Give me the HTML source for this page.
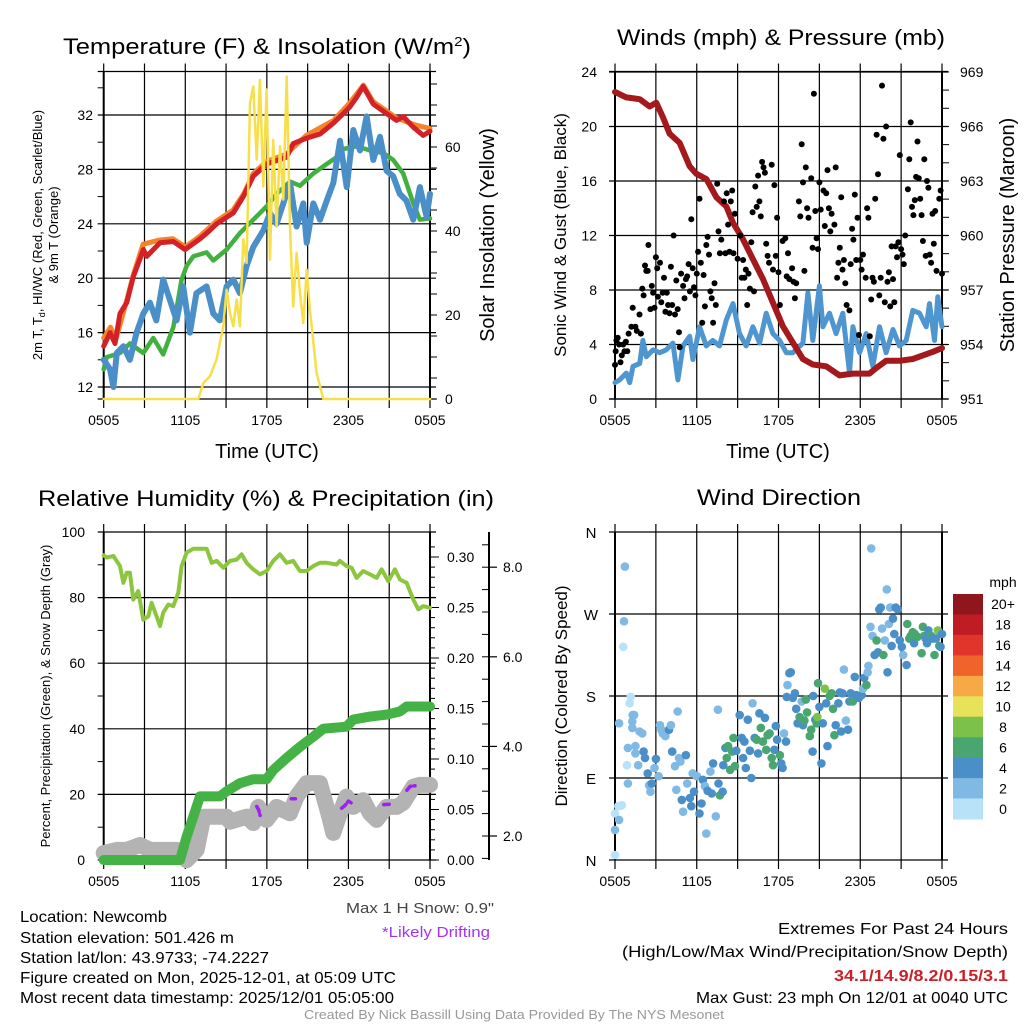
<!DOCTYPE html>
<html><head><meta charset="utf-8"><style>
html,body{margin:0;padding:0;background:#fff;}
svg{display:block;font-family:"Liberation Sans",Arial,sans-serif;}
</style></head><body>
<svg id="fig" width="1024" height="1024" viewBox="0 0 1024 1024" xmlns="http://www.w3.org/2000/svg">
<rect width="1024" height="1024" fill="#fff"/>
<text x="267" y="54" font-size="22" text-anchor="middle" textLength="408" lengthAdjust="spacingAndGlyphs">Temperature (F) &amp; Insolation (W/m<tspan dy="-8" font-size="13">2</tspan><tspan dy="8">)</tspan></text>
<text x="781" y="45" font-size="22" text-anchor="middle" textLength="328" lengthAdjust="spacingAndGlyphs">Winds (mph) &amp; Pressure (mb)</text>
<text x="266" y="506" font-size="22" text-anchor="middle" textLength="456" lengthAdjust="spacingAndGlyphs">Relative Humidity (%) &amp; Precipitation (in)</text>
<text x="779" y="505" font-size="22" text-anchor="middle" textLength="164" lengthAdjust="spacingAndGlyphs">Wind Direction</text>

<text transform="translate(42,235) rotate(-90)" font-size="13" text-anchor="middle">2m T, T<tspan font-size="9" dy="3">d</tspan><tspan dy="-3">, HI/WC (Red, Green, Scarlet/Blue)</tspan></text>
<text transform="translate(58,235) rotate(-90)" font-size="13" text-anchor="middle">&amp; 9m T (Orange)</text>
<text transform="translate(494,235) rotate(-90)" font-size="20" text-anchor="middle">Solar Insolation (Yellow)</text>
<text x="267" y="458" font-size="20" text-anchor="middle">Time (UTC)</text>
<text transform="translate(566,235) rotate(-90)" font-size="17" text-anchor="middle">Sonic Wind &amp; Gust (Blue, Black)</text>
<text transform="translate(1014,235) rotate(-90)" font-size="20" text-anchor="middle">Station Pressure (Maroon)</text>
<text x="778" y="458" font-size="20" text-anchor="middle">Time (UTC)</text>
<text transform="translate(50,696) rotate(-90)" font-size="13" text-anchor="middle">Percent, Precipitation (Green), &amp; Snow Depth (Gray)</text>
<text transform="translate(567,696) rotate(-90)" font-size="17" text-anchor="middle">Direction (Colored By Speed)</text>

<g id="layer"></g>

<text x="494" y="913" font-size="15" fill="#444" text-anchor="end" textLength="148" lengthAdjust="spacingAndGlyphs">Max 1 H Snow: 0.9"</text>
<text x="490" y="937" font-size="15" fill="#a335f0" text-anchor="end" textLength="108" lengthAdjust="spacingAndGlyphs">*Likely Drifting</text>
<g font-size="16">
<text x="20" y="922" textLength="147" lengthAdjust="spacingAndGlyphs">Location: Newcomb</text>
<text x="20" y="943" textLength="214" lengthAdjust="spacingAndGlyphs">Station elevation: 501.426 m</text>
<text x="20" y="963" textLength="249" lengthAdjust="spacingAndGlyphs">Station lat/lon: 43.9733; -74.2227</text>
<text x="20" y="983" textLength="376" lengthAdjust="spacingAndGlyphs">Figure created on Mon, 2025-12-01, at 05:09 UTC</text>
<text x="20" y="1003" textLength="374" lengthAdjust="spacingAndGlyphs">Most recent data timestamp: 2025/12/01 05:05:00</text>
</g>
<g font-size="16" text-anchor="end">
<text x="1008" y="934" textLength="230" lengthAdjust="spacingAndGlyphs">Extremes For Past 24 Hours</text>
<text x="1008" y="957" textLength="386" lengthAdjust="spacingAndGlyphs">(High/Low/Max Wind/Precipitation/Snow Depth)</text>
<text x="1008" y="981" fill="#cc2027" font-weight="bold" textLength="174" lengthAdjust="spacingAndGlyphs">34.1/14.9/8.2/0.15/3.1</text>
<text x="1008" y="1003" textLength="312" lengthAdjust="spacingAndGlyphs">Max Gust: 23 mph On 12/01 at 0040 UTC</text>
</g>
<text x="514" y="1019" font-size="13" fill="#999" text-anchor="middle" textLength="420" lengthAdjust="spacingAndGlyphs">Created By Nick Bassill Using Data Provided By The NYS Mesonet</text>
</svg>
<script>
// ---------- data ----------
const timeLabels = ["0505","1105","1705","2305","0505"];
const tempTicks = [12,16,20,24,28,32];
const insolTicks = [0,20,40,60];
const windTicks = [0,4,8,12,16,20,24];
const presTicks = [951,954,957,960,963,966,969];
const rhTicks = [0,20,40,60,80,100];
const precipTicks = [0,0.05,0.10,0.15,0.20,0.25,0.30];
const snowTicks = [2,4,6,8];
const dirTicks = ["N","E","S","W","N"];
const speedBins = ["0","2","4","6","8","10","12","14","16","18","20+"];
const speedColors = ["#b7e2f8","#7fb9e4","#4a8fc8","#4aa670","#7cc24a","#e8e15a","#f6a945","#f0632b","#e1352b","#bf1c24","#8f161c"];

const tT = [0,0.47,0.83,1.2,1.69,2.18,2.92,3.16,4.14,5.12,5.98,7.08,7.57,8.31,9.53,10.27,11.0,11.98,13.45,13.94,14.93,15.91,16.89,17.62,18.11,18.6,19.09,19.83,20.81,21.54,22.03,22.77,23.5,24];
const tempRed = [15.0,16,15.2,17.4,18.2,20.1,22.1,21.6,22.6,22.7,22.1,22.9,23.3,24.0,24.8,26,27.5,28.4,28.9,29.9,30.3,30.6,31.4,32.1,32.6,33.3,34.1,32.8,32.1,31.6,31.9,31.1,30.5,30.8];
const tO = [0,0.5,0.9,1.7,2.2,2.9,4.1,5.1,6.0,7.1,8.3,9.5,10.3,11.0,12.0,13.4,14.9,16.9,18.1,19.1,19.8,21.5,22.8,24];
const tempOrange = [15.6,16.4,15.5,18.4,20.3,22.5,22.8,22.9,22.3,23.1,24.2,25.0,26.2,27.7,28.6,29.1,30.5,31.6,32.9,34.2,33.0,31.8,31.3,31.0];
const tD = [0,0.22,1.2,1.93,2.91,3.65,4.38,5.12,5.73,6.1,6.59,7.57,8.06,9.04,10.0,11.0,12.0,12.72,13.7,14.44,15.42,16.4,17.13,17.62,18.6,19.58,20.56,21.29,22.03,22.77,23.26,24];
const dewGreen = [13.3,14.2,14.5,15.2,14.5,15.6,14.4,16.4,19.9,20.9,21.6,21.9,21.3,22.1,23.3,24.3,25.3,26.2,27.1,26.8,27.7,28.4,28.9,29.5,29.7,29.4,29.2,28.7,27.7,25.5,24.3,24.4];
const tB = [0,0.47,0.71,0.96,1.45,1.93,2.42,2.91,3.4,3.87,4.38,4.87,5.36,5.85,6.34,6.82,7.57,8.06,8.55,9.04,9.53,10.02,10.51,11.0,11.74,12.23,12.72,13.21,13.7,14.19,14.68,14.93,15.42,15.91,16.4,16.89,17.38,17.87,18.36,18.85,19.34,19.83,20.32,20.81,21.29,21.78,22.27,22.77,23.26,23.75,24];
const chillBlue = [14,13.3,12.0,14.5,15,14,16,17.4,18.2,16.9,19.9,18.4,16.9,19.4,16,18.9,19.4,17.4,16.9,19.4,19.9,18.9,20.9,22.3,23.5,24.8,24,25.5,27,23.8,25.5,22.6,25.5,24.3,25.7,27,30.1,26.7,30.9,29.4,31.9,28.7,30.4,27.9,27.5,26.2,25.7,24.3,26.7,24.5,26.2];
const tY = [0,6.96,7.33,7.82,8.3,8.8,9.04,9.29,9.53,9.78,10.02,10.27,10.51,10.76,11.0,11.25,11.49,11.74,11.98,12.23,12.47,12.72,12.97,13.21,13.46,13.7,13.94,14.19,14.44,14.68,14.93,15.17,15.66,16.15,24];
const insol = [0,0,3.8,5.4,9.4,17.3,26,20.5,17.3,23.7,17.3,38,32.4,70.5,74.4,57,76,50.6,73.7,33.2,61.7,41,60.2,47.5,76.8,41,22,34.8,25.2,18.1,30.8,21.3,6.2,0,0];

const tP = [0,0.83,1.81,2.54,3.03,3.52,4.01,4.74,5.48,5.97,6.71,7.44,8.17,8.66,9.39,10.12,10.86,11.59,12.32,13.06,13.79,14.52,15.5,16.48,17.46,18.68,19.17,19.9,20.88,21.86,22.59,23.33,24];
const pressure = [967.9,967.6,967.5,967.1,967.3,966.5,965.6,965.1,963.8,963.4,963.1,962.1,961.6,960.7,959.8,958.7,957.6,956.3,955,954.1,953.2,952.9,952.8,952.3,952.4,952.4,952.7,953.1,953.1,953.2,953.4,953.6,953.8];
const tW = [0,0.34,0.83,1.08,1.32,1.81,2.05,2.3,2.79,3.28,3.76,4.25,4.62,4.99,5.48,5.72,6.21,6.7,7.18,7.67,8.17,8.66,9.14,9.63,10.12,10.61,11.1,11.59,12.08,12.57,13.06,13.79,14.16,14.52,15.0,15.26,15.74,16.23,16.72,17.21,17.46,17.95,18.44,18.92,19.41,19.9,20.4,20.88,21.37,21.86,22.35,22.84,23.08,23.45,23.69,24];
const windBlue = [1.2,1.4,1.9,1.2,2.4,2.6,4.3,3.1,3.6,3.4,3.6,4.1,1.4,3.9,4.6,2.9,5.3,3.9,4.3,3.9,5.8,7.0,4.8,3.9,5.3,4.1,6.3,4.8,4.3,3.4,3.4,4.1,7.8,4.3,8.3,5.3,6.3,4.8,6.3,1.9,5.3,3.4,4.8,2.4,5.3,3.4,5.1,3.9,4.3,6.5,6.3,5.3,7.0,4.3,7.5,5.3];
const gustT = [0,0.05,0.1,0.2,0.3,0.4,0.5,0.6,0.7,0.8,0.9,1.0,1.2,1.3,1.5,1.6,1.8,1.9,2.0,2.1,2.2,2.3,2.4,2.45,2.6,2.7,2.8,2.9,3.0,3.1,3.15,3.3,3.4,3.5,3.6,3.7,3.8,3.9,4.0,4.1,4.2,4.3,4.4,4.5,4.6,4.7,4.75,4.85,5.0,5.1,5.2,5.3,5.4,5.5,5.6,5.7,5.8,5.9,6.0,6.1,6.2,6.3,6.4,6.5,6.6,6.7,6.8,6.9,7.0,7.1,7.2,7.3,7.4,7.5,7.6,7.7,7.8,8.0,8.1,8.2,8.3,8.4,8.5,8.6,8.7,8.8,9.0,9.2,9.3,9.4,9.5,9.6,9.7,9.8,9.9,10.0,10.1,10.2,10.3,10.4,10.5,10.6,10.7,10.8,10.9,11.0,11.1,11.2,11.3,11.5,11.6,11.7,11.8,11.9,12.0,12.1,12.3,12.5,12.6,12.7,12.8,13.0,13.1,13.2,13.3,13.5,13.6,13.7,13.8,13.9,14.0,14.1,14.2,14.4,14.5,14.6,14.7,14.8,14.9,15.0,15.1,15.3,15.4,15.5,15.6,15.7,15.8,15.9,16.1,16.2,16.3,16.4,16.5,16.6,16.7,16.8,16.9,17.0,17.2,17.3,17.4,17.5,17.6,17.7,17.8,17.9,18.0,18.1,18.2,18.4,18.5,18.6,18.7,18.8,18.9,19.0,19.1,19.2,19.3,19.4,19.5,19.6,19.7,19.8,19.9,20.0,20.1,20.2,20.3,20.4,20.5,20.6,20.7,20.8,20.9,21.0,21.1,21.2,21.3,21.5,21.6,21.7,21.8,21.9,22.0,22.1,22.2,22.3,22.4,22.5,22.6,22.7,22.8,22.9,23.0,23.1,23.2,23.3,23.4,23.5,23.6,23.8,23.9,24.0];
const gustV = [2.5,3.5,4.3,4.5,4.0,2.7,3.2,4.0,3.5,4.2,3.5,4.8,5.3,6.7,5.3,5.0,6.2,4.8,8.1,7.6,9.8,9.4,9.4,11.3,6.6,8.3,7.8,6.7,10.4,9.6,7.5,10,7.1,7.8,8.9,6.4,7.8,6.9,6.3,9.7,6.9,12.0,6.2,8.7,6.6,4.9,3.8,9.2,8.3,7.4,8.8,9.0,9.9,7.9,13.2,9.6,8.2,7.6,9.2,10.8,14.7,10.0,5.6,9.1,6.8,11.3,11.9,10.6,7.9,7.4,5.6,8.5,6.9,15.8,12.3,10.7,11.7,14.5,10.7,15.1,12.8,10.8,14.5,15.3,10.7,13.6,10.3,12.0,8.9,10.2,8.9,9.5,6.9,9.2,8.1,11.5,13.7,7.9,15.6,14.1,16.4,14.5,13.4,17.4,17.0,16.6,11.4,10.5,10.0,17.2,9.5,15.7,10.5,13.3,9.3,6.9,11.6,11.8,9.0,10.7,8.8,9.6,8.6,7.4,8.5,14.5,13.4,18.7,15.9,9.4,17.0,14.0,13.3,16.2,11.1,22.4,13.8,11.8,11.0,15.9,13.9,15.3,12.7,15.1,16.8,14.0,12.3,13.6,12.8,17.0,8.9,10.0,11.1,14.8,9.5,10.2,8.5,6.9,6.5,9.9,12.5,11.7,15.0,10.2,13.3,4.7,10.2,9.5,10.6,8.9,14.0,13.3,4.6,7.3,8.9,8.6,14.7,19.4,16.5,7.6,8.9,23.0,19.1,7.1,20.0,8.6,9.3,6.8,11.2,8.8,7.1,11.2,10.4,11.5,17.9,11.0,10.6,9.9,12.0,15.4,17.6,20.3,14.1,13.5,14.6,16.3,18.9,16.2,14.7,13.5,11.6,17.6,10.5,16.0,15.5,10.6,10.0,13.6,11.4,13.8,9.4,14.7,15.3,9.2];

const tR = [0,0.22,0.71,1.2,1.45,1.69,1.93,2.18,2.54,2.91,3.28,3.52,3.89,4.14,4.38,4.75,5.12,5.49,5.73,6.1,6.59,7.57,7.94,8.31,8.8,9.29,9.78,10.14,10.51,11.0,11.49,11.98,12.47,12.96,13.45,13.94,14.43,14.92,15.41,15.9,16.4,17.13,17.37,17.86,18.23,18.6,19.09,19.58,20.07,20.44,20.93,21.42,21.79,22.28,22.77,23.14,23.51,24];
const rh = [92.9,92.2,92.7,89.6,84.5,87.6,87.6,79.4,82,73.3,74.3,78.4,74.3,71.3,75.4,77.9,77.4,81.5,89.6,93.7,94.9,94.9,90.6,91.2,89.1,91.2,91.6,93.2,90.6,88.6,87.1,88.1,91.2,93.2,90.6,91.2,88.1,88.1,89.6,90.6,90.6,90.1,91.2,89.6,89.1,86.0,88.1,87.1,86.0,88.6,85.0,88.6,85.5,84.5,79.4,76.4,77.4,76.9];
const tPr = [0,5.61,6.1,7.08,8.55,9.04,10.02,11.0,11.98,12.47,13.45,14.43,15.41,16.15,17.86,18.35,19.58,20.8,21.78,22.28,24];
const precip = [0,0,0.023,0.063,0.063,0.068,0.076,0.080,0.080,0.089,0.101,0.112,0.122,0.130,0.132,0.139,0.142,0.144,0.147,0.152,0.152];
const tS = [0,0.98,1.69,2.67,3.41,5.37,6.1,6.84,7.33,9.04,9.29,10.51,11.0,11.37,11.98,12.72,13.7,14.19,14.93,15.9,16.52,16.89,17.38,17.86,18.35,19.09,19.58,20.07,20.81,21.54,22.03,22.77,23.26,24];
const snow = [1.62,1.69,1.69,1.80,1.69,1.69,1.46,1.69,2.43,2.43,2.32,2.43,2.29,2.65,2.36,2.65,2.51,2.88,3.18,3.18,2.51,2.07,2.51,2.88,2.65,2.80,2.51,2.36,2.65,2.65,2.74,3.10,3.14,3.14];
const driftT = [[11.25,11.4,11.5],[13.8,14.1],[17.5,17.75,18.0,18.2],[20.6,21.0],[22.3,22.55,22.9]];
const driftV = [[2.66,2.58,2.46],[2.83,2.83],[2.62,2.68,2.78,2.74],[2.70,2.71],[3.02,3.11,3.12]];

const dirT = [0,0,0,0.3,0.5,0.24,0.6,0.66,0.73,0.3,0.95,0.88,0.95,1.08,1.15,1.27,1.3,1.4,1.27,1.5,1.5,1.7,1.8,2.0,2.1,2.2,2.4,2.5,2.6,2.7,2.9,3.0,3.2,3.3,3.4,3.5,3.7,3.96,4.1,4.2,4.4,4.5,4.6,4.7,4.8,4.9,5.0,5.2,5.3,5.5,5.6,5.7,5.8,6.0,6.2,6.35,6.45,6.6,6.7,6.8,7.0,7.1,7.2,7.4,7.55,7.6,7.7,7.9,7.95,8.1,8.2,8.3,8.45,8.6,8.7,8.8,8.9,9.15,9.3,9.4,9.5,9.6,9.75,9.9,10.0,10.1,10.25,10.4,10.5,10.6,10.7,10.85,11.0,11.1,11.2,11.35,11.5,11.6,11.7,11.8,11.9,12.1,12.2,12.3,12.4,12.55,12.6,12.66,12.8,12.9,13.05,13.2,13.3,13.4,13.55,13.7,13.8,13.9,14.0,14.1,14.3,14.4,14.5,14.55,14.7,14.8,14.85,14.9,15.0,15.15,15.25,15.4,15.5,15.6,15.75,15.9,16.0,16.1,16.2,16.4,16.5,16.6,16.7,16.8,16.95,17.1,17.2,17.3,17.45,17.6,17.7,17.9,18.1,18.2,18.3,18.45,18.55,18.6,18.75,18.8,18.9,19.05,19.2,19.3,19.4,19.5,19.6,19.7,19.8,19.95,20.0,20.1,20.2,20.3,20.4,20.5,20.6,20.75,20.9,21.05,21.15,21.4,21.45,21.6,21.7,21.85,21.95,22.0,22.2,22.5,22.6,22.7,22.8,22.9,23.0,23.2,23.3,23.45,23.55,23.7,23.8,23.9,24.0];
const dirDeg = [5.5,33,51,44,60,59,234,262,322,150,123,104,84,172,179,152,159,159,145,125,117,104,141,139,119,112,95,82,75,84,101,111,92,148,143,139,136,143,148,119,103,77,163,112,108,66,53,115,84,68,59,95,75,92,51,62,88,81,29,76,97,73,106,48,165,84,71,75,104,123,112,125,99,119,134,103,120,159,134,112,130,101,154,120,90,172,134,132,117,161,145,130,156,121,137,139,112,104,121,147,132,115,106,101,139,130,179,192,205,206,178,183,166,150,157,174,148,153,176,162,136,143,119,180,154,150,157,194,168,106,150,188,172,125,180,183,166,137,148,172,184,141,183,209,153,143,174,183,174,201,181,178,181,188,200,192,206,213,256,342,246,225,241,228,275,277,254,225,241,297,206,259,277,235,265,248,277,275,241,234,225,214,259,243,246,250,238,248,245,227,256,246,243,238,252,246,243,225,243,252,235,234,248];
const dirSpd = [1,3,1,3,1,1,1,3,3,2,2,1,3,1,1,3,3,3,3,3,3,3,3,3,4,4,4,3,3,4,3,4,3,3,3,3,3,4,3,4,3,3,3,2,3,4,3,4,3,4,4,3,4,3,4,4,4,3,3,4,3,4,4,3,3,4,6,4,4,4,6,6,6,6,6,6,4,4,4,4,4,4,4,4,4,2,4,6,4,4,6,6,4,6,6,6,6,6,4,4,4,6,4,4,2,4,4,2,4,4,4,4,4,4,6,2,4,6,6,6,6,6,4,4,4,6,8,6,4,4,4,8,4,4,6,6,6,6,4,4,4,4,4,2,2,4,4,4,6,4,4,4,4,2,4,6,2,2,2,2,2,4,6,4,4,4,2,6,2,2,4,2,2,4,4,4,4,4,4,4,2,4,6,6,6,6,4,6,6,6,6,6,4,4,4,6,4,6,4,8,6,4,4,6,4,6,4];

// ---------- helpers ----------
const NS = "http://www.w3.org/2000/svg";
const layer = document.getElementById("layer");
function mk(tag, attrs, parent){
  const e = document.createElementNS(NS, tag);
  for (const k in attrs) e.setAttribute(k, attrs[k]);
  (parent || layer).appendChild(e);
  return e;
}
function txt(x, y, s, size, anchor, parent){
  const e = mk("text", {x:x, y:y, "font-size":size, "text-anchor":anchor}, parent);
  e.textContent = s;
  return e;
}
function pts(ts, vs, fx, fy){ return ts.map((t,i)=>fx(t).toFixed(1)+","+fy(vs[i]).toFixed(1)).join(" "); }

const L0 = 103.7, L1 = 430, R0 = 615, R1 = 942;
const xL = t => L0 + t*(L1-L0)/24;
const xR = t => R0 + t*(R1-R0)/24;
const yTemp = v => 387 - (v-12)*13.6;
const yIns = v => 399 - v*4.2;
const yWind = v => 399 - v*13.625;
const yPres = v => 399 - (v-951)*18.17;
const yRH = v => 860 - v*3.28;
const yPr = v => 860 - v*1010;
const ySnow = v => 836 - (v-2)*44.8;
const yDir = d => 860 - d*328/360;

function frame(x0, x1, yT, yB, name){
  const g = mk("g", {stroke:"#000", "stroke-width":1.2, fill:"none"});
  
  
  for (let i=0;i<=8;i++){
    const x = x0 + i*(x1-x0)/8;
    mk("line", {x1:x, y1:yT-8, x2:x, y2:yB+9}, g);
  }
  mk("line", {x1:x0-6, y1:yT, x2:x1+6, y2:yT}, g);
  mk("line", {x1:x0-6, y1:yB, x2:x1+6, y2:yB}, g);
  mk("line", {x1:x0, y1:yT, x2:x0, y2:yB, "stroke-width":2}, g);
  mk("line", {x1:x1, y1:yT, x2:x1, y2:yB, "stroke-width":2}, g);
  const lab = mk("g", {"font-size":14, fill:"#000"});
  
  
  timeLabels.forEach((s,i)=> txt(x0 + i*(x1-x0)/4, yB+26, s, 14, "middle", lab));
  return g;
}
function hgrid(g, x0, x1, ys){ ys.forEach(y=> mk("line", {x1:x0-6, y1:y, x2:x1+6, y2:y}, g)); }
function line(parent, ts, vs, fx, fy, color, w, name){
  const p = mk("polyline", {points:pts(ts,vs,fx,fy), fill:"none", stroke:color, "stroke-width":w, "stroke-linejoin":"round", "stroke-linecap":"round"}, parent);
  
  
  return p;
}

// ---------- panel 1 ----------
const g1 = frame(L0, L1, 71.5, 399, "temperature-panel");
hgrid(g1, L0, L1, tempTicks.map(yTemp));
for (let v=14; v<=34; v+=4) mk("line", {x1:L0-6, y1:yTemp(v), x2:L0, y2:yTemp(v), "stroke-width":1}, g1);
for (let v=0; v<=75; v+=5) mk("line", {x1:L1, y1:yIns(v), x2:L1+7, y2:yIns(v), "stroke-width":1}, g1);
const t1 = mk("g", {});


tempTicks.forEach(v=> txt(93, yTemp(v)+5, String(v), 14, "end", t1));
insolTicks.forEach(v=> txt(445, yIns(v)+5, String(v), 14, "start", t1));
const s1 = mk("g", {});


line(s1, tO, tempOrange, xL, yTemp, "#f5832a", 5, "temp-9m-orange-line");
line(s1, tD, dewGreen, xL, yTemp, "#42b03f", 4.5, "dewpoint-green-line");
line(s1, tT, tempRed, xL, yTemp, "#d42027", 5, "temp-2m-red-line");
line(s1, tB, chillBlue, xL, yTemp, "#4a8fc8", 6, "windchill-blue-line");
line(s1, tY, insol, xL, yIns, "#f7df4a", 2.5, "insolation-yellow-line");

// ---------- panel 2 ----------
const g2 = frame(R0, R1, 71.5, 399, "wind-panel");
hgrid(g2, R0, R1, windTicks.map(yWind));
for (let v=951; v<=969; v+=1) mk("line", {x1:R1, y1:yPres(v), x2:R1+7, y2:yPres(v), "stroke-width":1}, g2);
const t2 = mk("g", {});


windTicks.forEach(v=> txt(597, yWind(v)+5, String(v), 14, "end", t2));
presTicks.forEach(v=> txt(960, yPres(v)+5, String(v), 14, "start", t2));
const s2 = mk("g", {});


line(s2, tW, windBlue, xR, yWind, "#4f95d0", 5, "sonic-wind-line");
line(s2, tP, pressure, xR, yPres, "#a3191c", 6, "pressure-line");
gustT.forEach((t,i)=>{
  const c = mk("circle", {cx:xR(t).toFixed(1), cy:yWind(gustV[i]).toFixed(1), r:3, fill:"#000"}, s2);
  
  
});

// ---------- panel 3 ----------
const g3 = frame(L0, L1, 532, 860, "humidity-panel");
hgrid(g3, L0, L1, [20,40,60,80].map(yRH));
for (let v=10; v<=90; v+=20) mk("line", {x1:L0-6, y1:yRH(v), x2:L0, y2:yRH(v), "stroke-width":1}, g3);
for (let v=0; v<=0.32; v+=0.01) mk("line", {x1:L1, y1:yPr(v), x2:L1+ (Math.round(v*100)%5==0?9:5), y2:yPr(v), "stroke-width":1}, g3);
mk("line", {x1:489, y1:532, x2:489, y2:860, "stroke-width":2}, g3);
for (let v=1.5; v<=8.9; v+=0.5) mk("line", {x1:482, y1:ySnow(v), x2:489, y2:ySnow(v), "stroke-width":1}, g3);
snowTicks.forEach(v=> mk("line", {x1:489, y1:ySnow(v), x2:497, y2:ySnow(v), "stroke-width":1.2}, g3));
const t3 = mk("g", {});


rhTicks.forEach(v=> txt(85, yRH(v)+5, String(v), 14, "end", t3));
precipTicks.forEach(v=> txt(447, yPr(v)+5, v.toFixed(2), 14, "start", t3));
snowTicks.forEach(v=> txt(503, ySnow(v)+5, v.toFixed(1), 14, "start", t3));
const s3 = mk("g", {});


line(s3, tS, snow, xL, ySnow, "#b3b3b3", 16, "snow-depth-line");
line(s3, tPr, precip, xL, yPr, "#44b244", 10, "precipitation-line");
line(s3, tR, rh, xL, yRH, "#8cc63e", 4, "humidity-line");
driftT.forEach((ts,i)=>{
  const p = line(s3, ts, driftV[i], xL, ySnow, "#a020f0", 3.5, "drifting-segment");
  p.setAttribute("stroke-dasharray", "6 3");
});

// ---------- panel 4 ----------
const g4 = frame(R0, R1, 532, 860, "direction-panel");
hgrid(g4, R0, R1, [90,180,270].map(yDir));
const t4 = mk("g", {});


dirTicks.forEach((s,i)=> txt(591, yDir(i*90)+6, s, 15, "middle", t4));
const s4 = mk("g", {});


dirT.forEach((t,i)=>{
  if (dirDeg[i] === undefined) return;
  const spd = dirSpd[i] === undefined ? 4 : dirSpd[i];
  const bin = Math.min(10, Math.floor(spd/2));
  const c = mk("circle", {cx:xR(t).toFixed(1), cy:yDir(dirDeg[i]).toFixed(1), r:4.3, fill:speedColors[bin]}, s4);
  
  
});
const cb = mk("g", {});


txt(1003, 587, "mph", 14, "middle", cb);
const binH = (819-594)/speedBins.length;
speedBins.forEach((s,i)=>{
  const k = speedBins.length-1-i;
  const r = mk("rect", {x:953, y:(594+i*binH).toFixed(1), width:30, height:(binH+0.5).toFixed(1), fill:speedColors[k]}, cb);
  
  
  txt(1003, 594+i*binH+binH/2+5, speedBins[k], 14, "middle", cb);
});
</script>
</body></html>
